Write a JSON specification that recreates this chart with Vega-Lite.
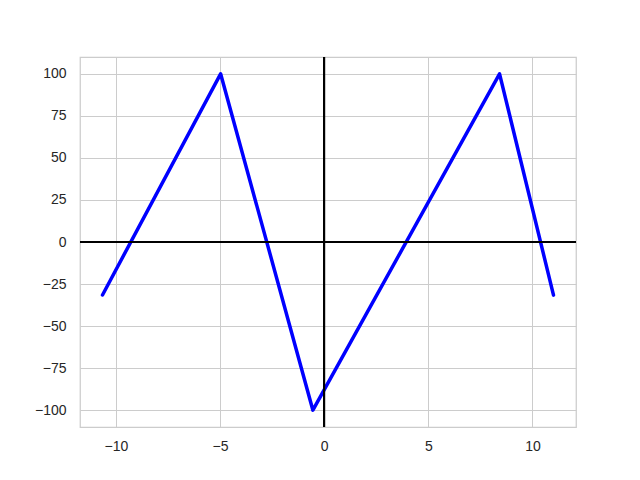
{
  "$schema": "https://vega.github.io/schema/vega-lite/v6.json",
  "width": 496,
  "height": 370,
  "autosize": {"type": "none"},
  "padding": {"left": 80, "top": 57, "right": 64, "bottom": 53},
  "background": "white",
  "config": {
    "view": {"stroke": "#cccccc", "strokeWidth": 1.25},
    "axis": {
      "grid": true,
      "gridColor": "#cccccc",
      "gridWidth": 1,
      "domain": false,
      "ticks": false,
      "tickSize": 0,
      "labelFont": "Liberation Sans",
      "labelFontSize": 14,
      "labelColor": "#262626",
      "labelPadding": 14,
      "title": null
    }
  },
  "data": {
    "values": [
      {"x": -10.64, "y": -31.5},
      {"x": -4.97, "y": 100},
      {"x": -0.54, "y": -100},
      {"x": 8.42, "y": 100},
      {"x": 11.01, "y": -31.6}
    ]
  },
  "layer": [
    {
      "mark": {"type": "line", "color": "#0000ff", "strokeWidth": 3.5, "strokeJoin": "round", "strokeCap": "round"},
      "encoding": {
        "x": {"field": "x", "type": "quantitative", "scale": {"domain": [-11.72, 12.09], "nice": false, "zero": false},
              "axis": {"values": [-10, -5, 0, 5, 10], "labelPadding": 12}},
        "y": {"field": "y", "type": "quantitative", "scale": {"domain": [-110, 110], "nice": false, "zero": false},
              "axis": {"values": [-100, -75, -50, -25, 0, 25, 50, 75, 100]}}
      }
    },
    {
      "mark": {"type": "rule", "color": "black", "strokeWidth": 1.8},
      "encoding": {"y": {"datum": 0}}
    },
    {
      "mark": {"type": "rule", "color": "black", "strokeWidth": 1.8},
      "encoding": {"x": {"datum": 0}}
    }
  ]
}
